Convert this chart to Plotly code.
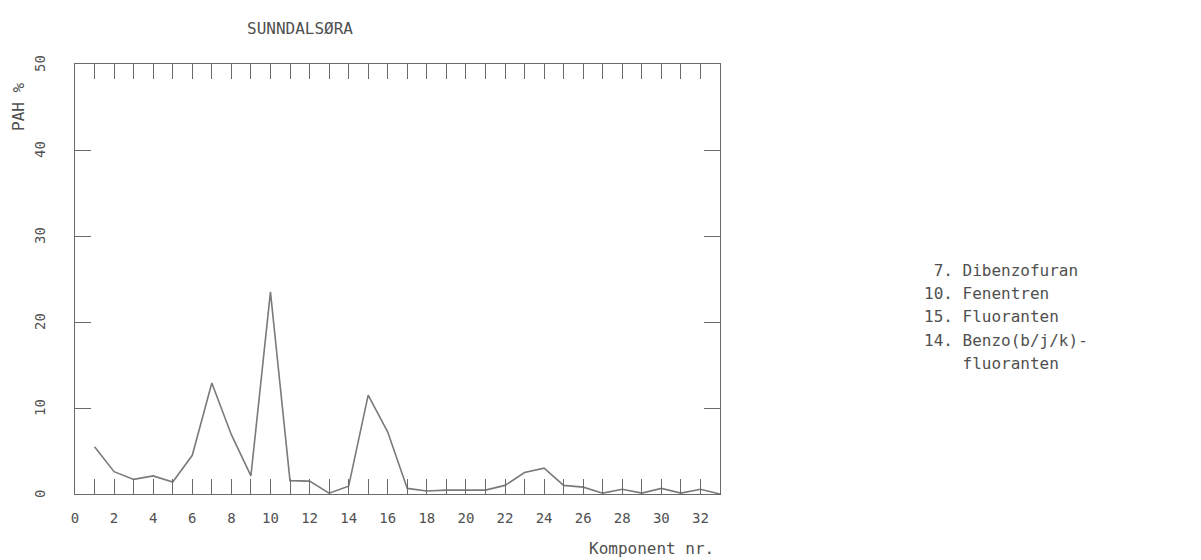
import plotly.graph_objects as go

komponent = list(range(1, 34))
pah_pct = [5.5, 2.6, 1.7, 2.1, 1.4, 4.5, 12.9, 6.9, 2.1, 23.5,
           1.55, 1.5, 0.1, 0.9, 11.5, 7.2, 0.65, 0.35, 0.45, 0.45,
           0.45, 1.0, 2.5, 3.0, 1.0, 0.8, 0.1, 0.55, 0.1, 0.65,
           0.1, 0.55, 0.0]
x_tickvals = list(range(0, 33, 2))
y_tickvals = [0, 10, 20, 30, 40, 50]
legend_lines = [" 7. Dibenzofuran", "10. Fenentren", "15. Fluoranten",
                "14. Benzo(b/j/k)-", "    fluoranten"]

FONT = "DejaVu Sans Mono"
TXT = "#505050"
AX = "#6a6a6a"

fig = go.Figure()
fig.add_trace(go.Scatter(x=komponent, y=pah_pct, mode="lines",
                         line=dict(color="#7a7a7a", width=1.6),
                         showlegend=False, hoverinfo="skip"))

fig.update_layout(
    width=1201, height=560,
    margin=dict(l=75, r=481, t=64, b=66),
    paper_bgcolor="white", plot_bgcolor="white",
    font=dict(family=FONT, color=TXT, size=13),
    showlegend=False,
)
fig.update_xaxes(
    range=[0, 33], tickvals=x_tickvals, ticktext=[str(v) for v in x_tickvals],
    ticks="inside", ticklen=15, tickcolor=AX, tickwidth=1.2,
    minor=dict(dtick=1, tick0=0, ticks="inside", ticklen=15, tickcolor=AX, tickwidth=1.2),
    showline=True, linecolor=AX, linewidth=1.3, mirror="ticks",
    showgrid=False, zeroline=False,
    tickfont=dict(family=FONT, size=14, color=TXT), ticklabelstandoff=11,
)
fig.update_yaxes(
    range=[0, 50], tickvals=y_tickvals, showticklabels=False,
    ticks="inside", ticklen=16, tickcolor=AX, tickwidth=1.2,
    showline=True, linecolor=AX, linewidth=1.3, mirror="ticks",
    showgrid=False, zeroline=False,
)

# y tick labels, rotated as in the reference
for v in y_tickvals:
    fig.add_annotation(text=str(v), xref="paper", yref="y",
                       x=(40 - 75) / 645, y=v, textangle=-90,
                       showarrow=False, xanchor="center", yanchor="middle",
                       font=dict(family=FONT, size=14, color=TXT))

fig.add_annotation(text="SUNNDALSØRA", xref="paper", yref="paper",
                   x=(300 - 75) / 645, y=1 + (64 - 28) / 430,
                   showarrow=False, xanchor="center", yanchor="middle",
                   font=dict(family=FONT, size=16, color=TXT))
fig.add_annotation(text="PAH %", xref="paper", yref="paper",
                   x=(18 - 75) / 645, y=(494 - 107) / 430, textangle=-90,
                   showarrow=False, xanchor="center", yanchor="middle",
                   font=dict(family=FONT, size=16, color=TXT))
fig.add_annotation(text="Komponent nr.", xref="paper", yref="paper",
                   x=(716 - 75) / 645, y=-(548 - 494) / 430,
                   showarrow=False, xanchor="right", yanchor="middle",
                   font=dict(family=FONT, size=16, color=TXT))

line_y = [270, 293, 316, 340, 363]
for txt, yy in zip(legend_lines, line_y):
    fig.add_annotation(text=txt.replace(" ", "&nbsp;"), xref="paper", yref="paper",
                       x=(922 - 75) / 645, y=(494 - yy) / 430,
                       showarrow=False, xanchor="left", yanchor="middle",
                       font=dict(family=FONT, size=16, color=TXT))

fig.write_html("out.html")
